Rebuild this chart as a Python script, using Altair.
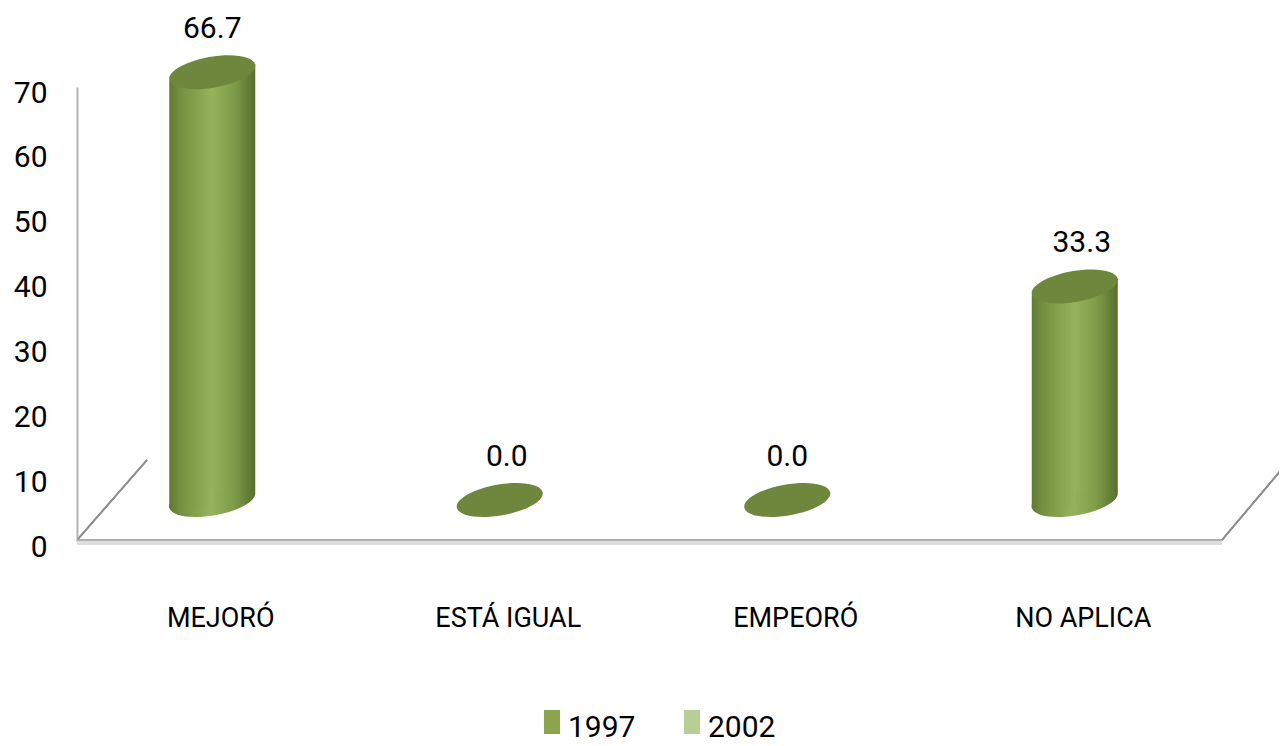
import altair as alt
import pandas as pd

categories = ["MEJORÓ", "ESTÁ IGUAL", "EMPEORÓ", "NO APLICA"]
values_1997 = [66.7, 0.0, 0.0, 33.3]
years = ["1997", "2002"]
year_colors = ["#8ba44d", "#b9cd94"]
y_ticks = [0, 10, 20, 30, 40, 50, 60, 70]

df = pd.DataFrame({"cat": categories, "val": values_1997})
df_years = pd.DataFrame({"year": years})

FONT = "Roboto"
FS = 30

x_enc = alt.X("cat:N", sort=categories, title=None,
              scale=alt.Scale(domain=categories, paddingInner=0, paddingOuter=0),
              axis=alt.Axis(domain=False, ticks=False, labelAngle=0, labelPadding=64,
                            labelFont=FONT, labelFontSize=27, labelColor="#000000"))
# the value axis (drawn from the front corner of the floor)
y_axis = alt.Y("val:Q", title=None, scale=alt.Scale(domain=[0, 70], nice=False),
               axis=alt.Axis(values=y_ticks, grid=False, ticks=False, domainColor="#b3b3b3",
                             domainWidth=2, labelPadding=30, labelOffset=6,
                             labelFont=FONT, labelFontSize=FS, labelColor="#000000", format="d"))
# the columns stand on the back of the floor, so their scale is set back from the axis
back_scale = alt.Scale(domain=[0, 70], nice=False, range=[413, -36])
y_back = alt.Y("val:Q", axis=None, scale=back_scale)
y_zero = alt.Y("zero:Q", axis=None, scale=back_scale)

def grad(stops):
    return {"gradient": "linear", "x1": 0, "x2": 1, "y1": 0, "y2": 0,
            "stops": [{"offset": o, "color": c} for o, c in stops]}

full_grad = grad([(0, "#5f7a33"), (0.12, "#73903f"), (0.48, "#95b35b"), (0.75, "#7f9c48"), (1, "#566e2e")])
left_grad = grad([(0, "#5f7a33"), (0.24, "#73903f"), (0.96, "#95b35b"), (1, "#95b35b")])
right_grad = grad([(0, "#95b35b"), (0.5, "#7f9c48"), (1, "#566e2e")])

ELLIPSE = "M-0.985,0.174 A1,0.355,-10,1,1,0.985,-0.174 A1,0.355,-10,1,1,-0.985,0.174 Z"
SIZE = 7604
CX = -8.5
SKEW = 8

base = alt.Chart(df)
bars_df = base.transform_filter("datum.val > 0")

axis_layer = base.mark_point(opacity=0).encode(x=x_enc, y=y_axis)

bottom = bars_df.transform_calculate(zero="0").mark_point(
    shape=ELLIPSE, size=SIZE, filled=True, fill=full_grad, opacity=1,
    strokeWidth=0, xOffset=CX).encode(x=x_enc, y=y_zero)

left_half = bars_df.mark_bar(size=44, fill=left_grad, xOffset=CX - 21, yOffset=SKEW).encode(
    x=x_enc, y=y_back)
right_half = bars_df.mark_bar(size=43, fill=right_grad, xOffset=CX + 21.5, yOffset=-SKEW).encode(
    x=x_enc, y=y_back)

top = base.mark_point(shape=ELLIPSE, size=SIZE, filled=True, fill="#6e873d", opacity=1,
                      strokeWidth=0, xOffset=CX).encode(x=x_enc, y=y_back)

def labels(cats, dx):
    return base.transform_filter(alt.FieldOneOfPredicate(field="cat", oneOf=cats)).mark_text(
        font=FONT, fontSize=FS, color="#000000", baseline="alphabetic",
        xOffset=dx, yOffset=-34).encode(x=x_enc, y=y_back, text=alt.Text("val:Q", format=".1f"))

floor_shadow = base.mark_rule(color="#dcdcdc", strokeWidth=3).encode(
    x=alt.value(0), x2=alt.value(1145), y=alt.value(456), y2=alt.value(456))
floor = base.mark_rule(color="#b0b0b0", strokeWidth=2).encode(
    x=alt.value(0), x2=alt.value(1145), y=alt.value(453), y2=alt.value(453))
diag_l = base.mark_rule(color="#8f8f8f", strokeWidth=1.5).encode(
    x=alt.value(1), x2=alt.value(70), y=alt.value(452), y2=alt.value(373))
diag_r = base.mark_rule(color="#8f8f8f", strokeWidth=1.5).encode(
    x=alt.value(1145), x2=alt.value(1210), y=alt.value(453), y2=alt.value(376))

legend_layer = alt.Chart(df_years).mark_point(filled=True, opacity=1).encode(
    x=alt.value(-500), y=alt.value(-500),
    color=alt.Color("year:N", title=None,
                    scale=alt.Scale(domain=years, range=year_colors),
                    legend=alt.Legend(orient="none", legendX=460, legendY=626, direction="horizontal",
                                      symbolType="M-0.67,-1.5H0.67V0.5H-0.67Z", symbolSize=576,
                                      symbolStrokeWidth=0, labelFont=FONT, labelFontSize=FS,
                                      labelColor="#000000", labelOffset=1, columnPadding=41)))

chart = alt.layer(
    axis_layer, floor_shadow, floor, diag_l, diag_r,
    bottom, left_half, right_half, top,
    labels(["MEJORÓ", "EMPEORÓ"], -8.5), labels(["ESTÁ IGUAL", "NO APLICA"], -1.5),
    legend_layer,
).resolve_scale(y="independent").properties(
    width=1150, height=454,
    padding={"left": 69, "top": 79, "right": 52, "bottom": 205},
    autosize=alt.AutoSizeParams(type="none"),
).configure_view(stroke=None)

chart.save("out.html", embed_options={"renderer": "svg", "actions": False})
